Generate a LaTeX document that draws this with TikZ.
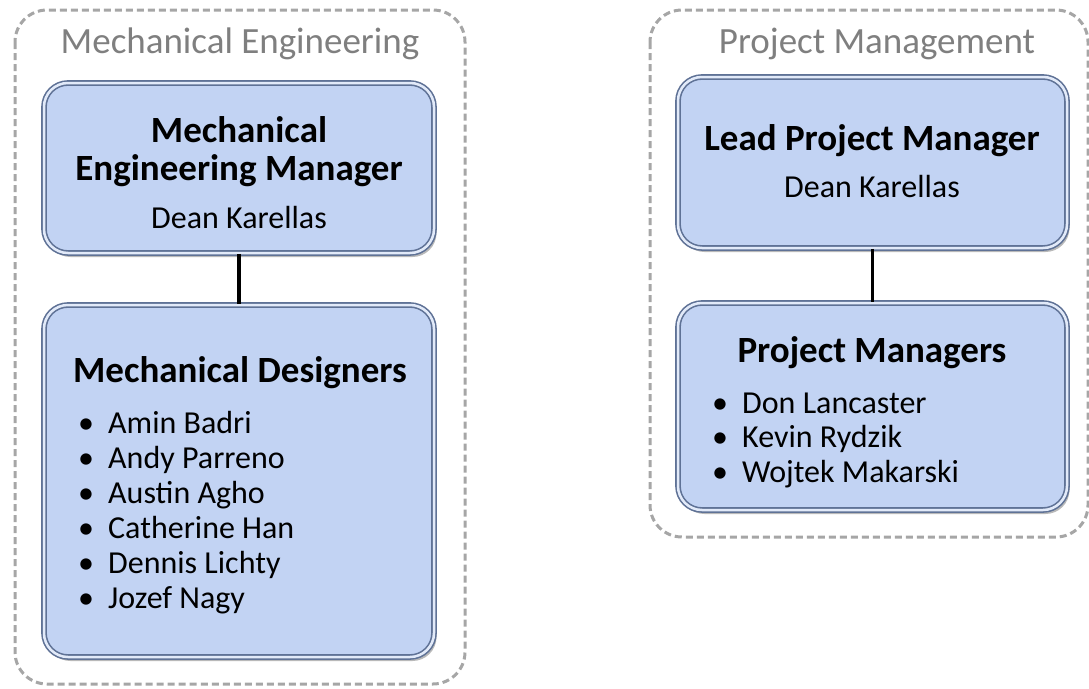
\documentclass[tikz,border=0pt]{standalone}
\usepackage{fontspec}
\setmainfont{Carlito}
\usetikzlibrary{shadows}

\definecolor{boxblue}{HTML}{C2D3F3}
\definecolor{boxedge}{HTML}{5F7296}
\definecolor{boxlight}{HTML}{E2EAF9}
\definecolor{groupgray}{HTML}{A6A6A6}
\definecolor{titlegray}{HTML}{7F7F7F}

\tikzset{
  group/.style={draw=groupgray, line width=3pt, dash pattern=on 7pt off 4pt, rounded corners=32pt},
  orgbox/.style={fill=boxblue, draw=boxedge, line width=1.6pt, double=boxlight, double distance=2.5pt,
    rounded corners=24pt, inner sep=0pt, drop shadow={opacity=0.55, shadow xshift=2.5pt, shadow yshift=-4pt}},
  grouptitle/.style={text=titlegray, font=\fontsize{37}{44}\selectfont, anchor=base},
  roletitle/.style={font=\bfseries\fontsize{37}{44}\selectfont, anchor=base},
  person/.style={font=\fontsize{32}{38}\selectfont, anchor=base},
  member/.style={font=\fontsize{32}{38}\selectfont, anchor=base west, inner sep=0pt},
  link/.style={line width=3.5pt}
}

\begin{document}
\begin{tikzpicture}[x=1pt,y=-1pt]

\useasboundingbox (0,0) rectangle (1089,688);

\draw[group] (15,10) rectangle (465,684);
\draw[group] (650,10) rectangle (1088,537);

\node[grouptitle] (mechtitle) at (240,53) {Mechanical Engineering};
\node[grouptitle] (pmtitle) at (877,53) {Project Management};

\node[orgbox, minimum width=390pt, minimum height=170pt] (mgr) at (239,168) {};
\node[orgbox, minimum width=390pt, minimum height=352pt] (designers) at (239,481) {};
\node[orgbox, minimum width=389pt, minimum height=171pt] (lead) at (872.5,162.5) {};
\node[orgbox, minimum width=389pt, minimum height=207pt] (pms) at (872.5,406.5) {};

\draw[link] (mgr.south) -- (designers.north);
\draw[link] (lead.south) -- (pms.north);

\node[roletitle] (mgrA) at (239,142) {Mechanical};
\node[roletitle] (mgrB) at (239,180) {Engineering Manager};
\node[person] (mgrname) at (239,228) {Dean Karellas};

\node[roletitle] (designershead) at (240,382) {Mechanical Designers};
\foreach \who [count=\i] in {Amin Badri, Andy Parreno, Austin Agho, Catherine Han, Dennis Lichty, Jozef Nagy}
    \node[member] (designer\i) at (78,{433+35*(\i-1)}) {\makebox[30pt][l]{\textbullet}\who};

\node[roletitle] (leadhead) at (872,150) {Lead Project Manager};
\node[person] (leadname) at (872,197) {Dean Karellas};

\node[roletitle] (pmshead) at (872,362) {Project Managers};
\foreach \who [count=\i] in {Don Lancaster, Kevin Rydzik, Wojtek Makarski}
    \node[member] (pm\i) at (712,{413+34.5*(\i-1)}) {\makebox[30pt][l]{\textbullet}\who};

\end{tikzpicture}
\end{document}
